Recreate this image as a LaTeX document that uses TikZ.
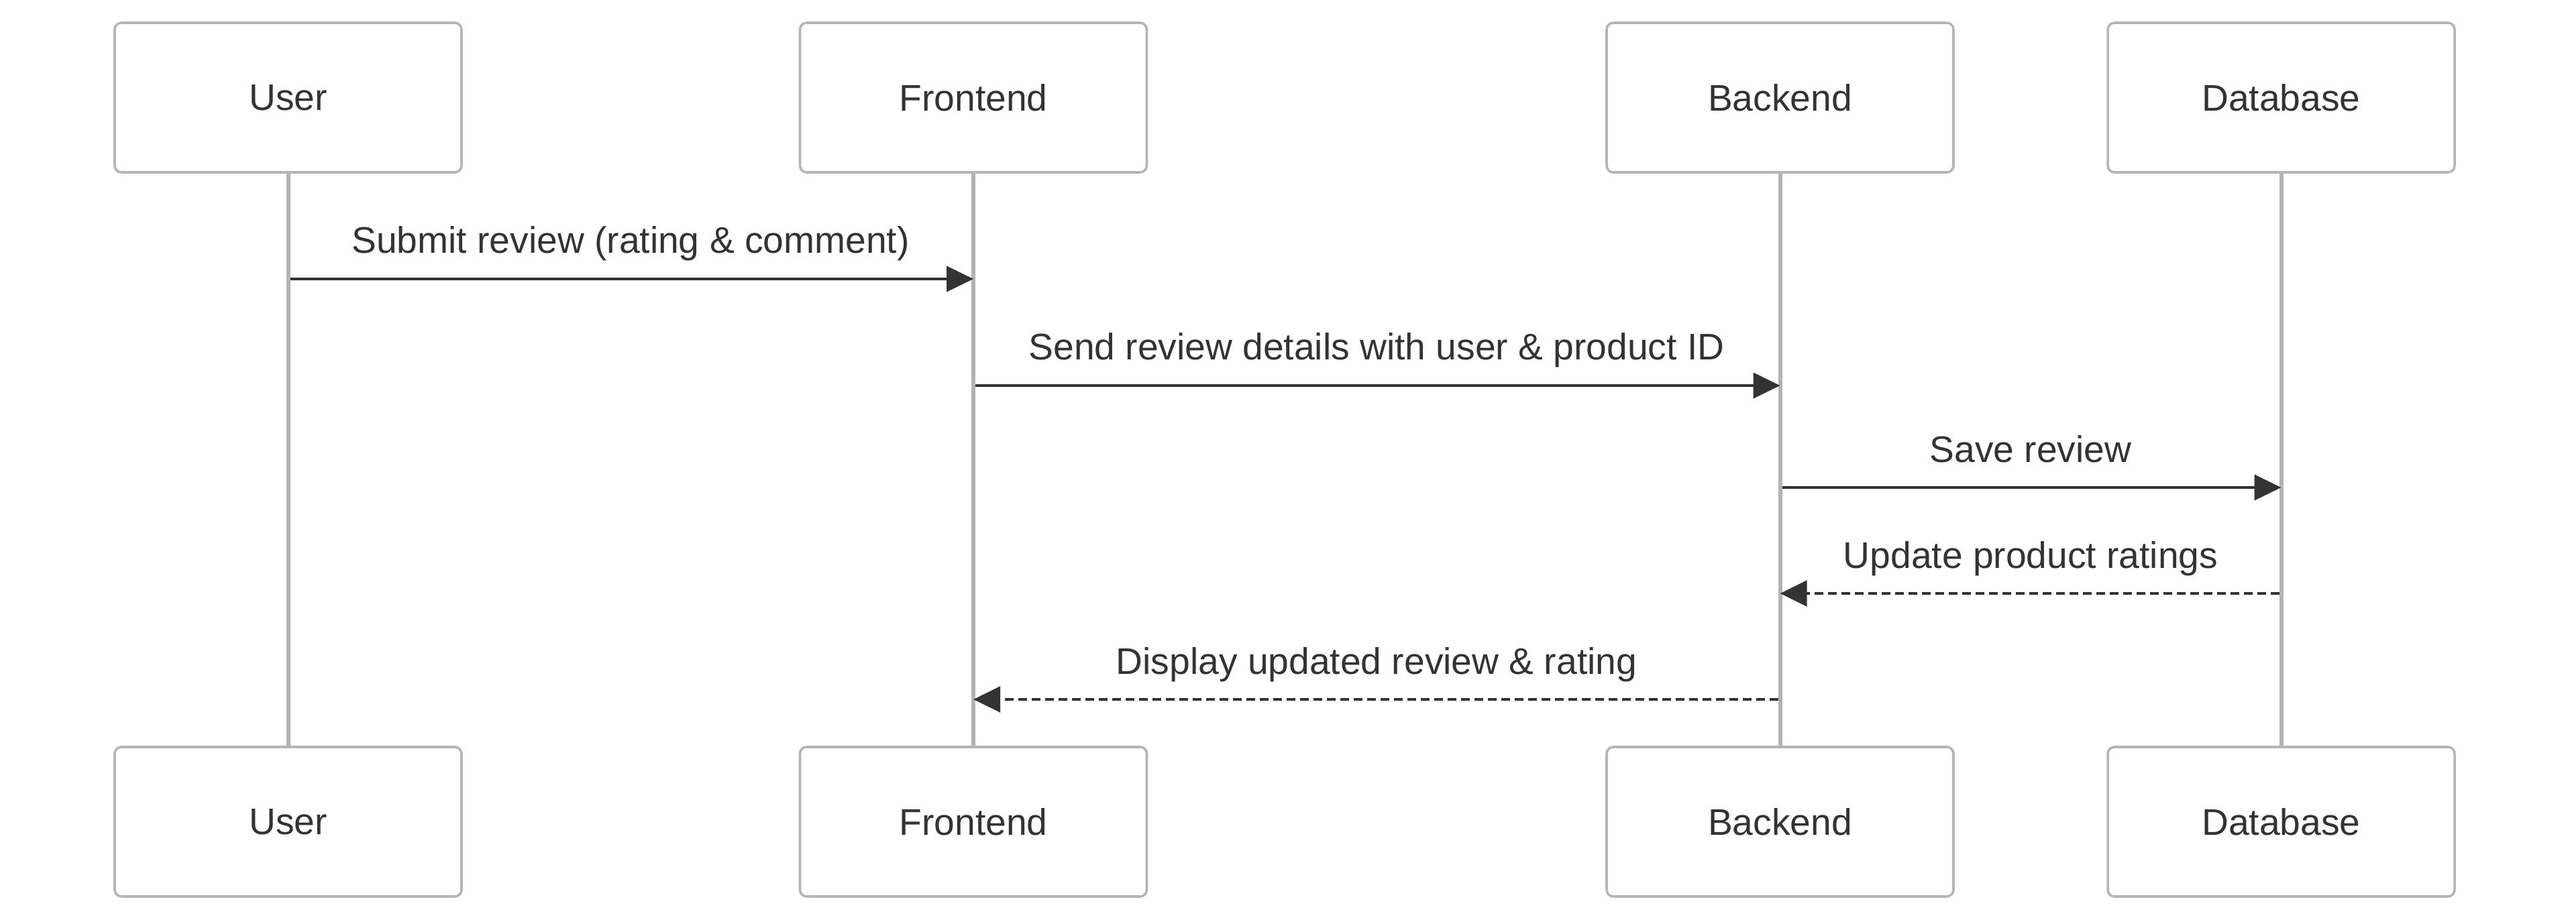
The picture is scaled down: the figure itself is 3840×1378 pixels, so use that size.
\documentclass[tikz,border=0pt]{standalone}
\usepackage{fontspec}
\setmainfont{Liberation Sans}
\usetikzlibrary{arrows.meta}
\definecolor{txt}{HTML}{333333}
\definecolor{boxborder}{HTML}{B5B5B5}
\definecolor{lifecol}{HTML}{B3B3B3}
\definecolor{arrowcol}{HTML}{333333}
\tikzset{
  actor/.style={draw=boxborder, line width=0.9pt, fill=white, rounded corners=2.5pt,
    minimum width=129.25pt, minimum height=55.75pt, inner sep=0pt,
    font=\fontsize{13.8}{16}\selectfont, text=txt},
  lifeline/.style={draw=lifecol, line width=1.5pt},
  msg/.style={draw=arrowcol, line width=1pt, -{Triangle[length=10pt,width=9.5pt]}},
  reply/.style={msg, dash pattern=on 3.25pt off 1.75pt, line width=1.2pt},
  msglabel/.style={anchor=base, font=\fontsize{13.8}{16}\selectfont, text=txt, inner sep=0pt}
}
\begin{document}
\begin{tikzpicture}[x=0.25pt,y=-0.25pt]
\useasboundingbox (0,0) rectangle (3840,1378);
\node[actor] (uTop) at (429.5,145.5) {User};
\node[actor] (fTop) at (1451,145.5) {Frontend};
\node[actor] (bTop) at (2653.5,145.5) {Backend};
\node[actor] (dTop) at (3400.5,145.5) {Database};
\node[actor] (uBot) at (429.5,1225.5) {User};
\node[actor] (fBot) at (1451,1225.5) {Frontend};
\node[actor] (bBot) at (2653.5,1225.5) {Backend};
\node[actor] (dBot) at (3400.5,1225.5) {Database};
\draw[lifeline] (uTop.south) -- (uBot.north);
\draw[lifeline] (fTop.south) -- (fBot.north);
\draw[lifeline] (bTop.south) -- (bBot.north);
\draw[lifeline] (dTop.south) -- (dBot.north);
% messages
\draw[msg] ([xshift=0.75pt]uTop.south |- 0,416) -- (fTop.south |- 0,416);
\node[msglabel] (l1) at (940,378) {Submit review (rating \& comment)};
\draw[msg] ([xshift=0.75pt]fTop.south |- 0,575) -- (bTop.south |- 0,575);
\node[msglabel] (l2) at (2052,537) {Send review details with user \& product ID};
\draw[msg] ([xshift=0.75pt]bTop.south |- 0,727) -- (dTop.south |- 0,727);
\node[msglabel] (l3) at (3027,689) {Save review};
\draw[reply] ([xshift=-0.75pt]dTop.south |- 0,885) -- (bTop.south |- 0,885);
\node[msglabel] (l4) at (3027,847) {Update product ratings};
\draw[reply] ([xshift=-0.75pt]bTop.south |- 0,1043) -- (fTop.south |- 0,1043);
\node[msglabel] (l5) at (2052,1005) {Display updated review \& rating};
\end{tikzpicture}
\end{document}
